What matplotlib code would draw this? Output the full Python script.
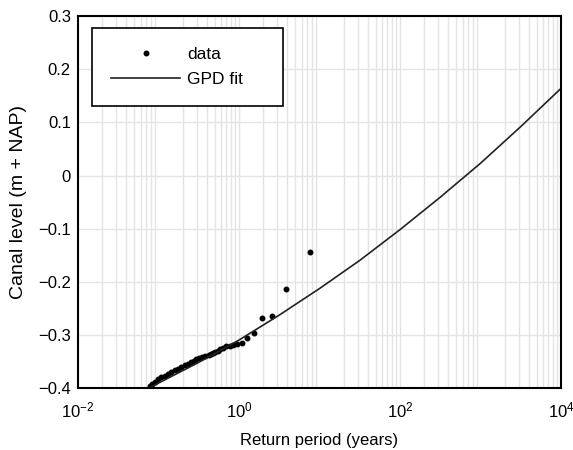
import matplotlib
matplotlib.use('Agg')
import matplotlib.pyplot as plt
import numpy as np

plt.rcParams['font.family'] = ['Liberation Sans', 'DejaVu Sans']
plt.rcParams['mathtext.default'] = 'regular'

# observed canal levels vs empirical return period (years)
data_T = [7.62, 3.84, 2.55, 1.91, 1.53, 1.27, 1.09, 0.955, 0.849, 0.764, 0.695,
          0.637, 0.588, 0.546, 0.509, 0.478, 0.449, 0.424, 0.382, 0.347, 0.318,
          0.294, 0.273, 0.255, 0.232, 0.212, 0.191, 0.174, 0.159, 0.144, 0.132,
          0.119, 0.109, 0.099, 0.091, 0.084, 0.078]
data_level = [-0.144, -0.213, -0.264, -0.268, -0.297, -0.306, -0.316, -0.318,
              -0.320, -0.321, -0.322, -0.324, -0.327, -0.330, -0.333, -0.335,
              -0.336, -0.338, -0.340, -0.341, -0.343, -0.346, -0.349, -0.351,
              -0.355, -0.357, -0.361, -0.364, -0.366, -0.370, -0.374, -0.377,
              -0.380, -0.384, -0.388, -0.392, -0.397]

# GPD fit return level curve
fit_T = [0.0759, 0.1, 0.316, 1.0, 3.16, 10.0, 31.6, 100.0, 316.0, 1000.0, 3162.0, 10000.0]
fit_level = [-0.400, -0.391, -0.352, -0.310, -0.263, -0.213, -0.160, -0.102,
             -0.041, 0.023, 0.092, 0.164]

fig = plt.figure(figsize=(5.73, 4.5), dpi=100)
ax = fig.add_axes([0.136, 0.138, 0.843, 0.826])

ax.plot(data_T, data_level, '.', color='black', markersize=6.5, label='data')
ax.plot(fit_T, fit_level, '-', color='#222222', linewidth=1.2, label='GPD fit')

ax.set_xscale('log')
ax.set_xlim(1e-2, 1e4)
ax.set_ylim(-0.4, 0.3)
ax.set_xticks([1e-2, 1e0, 1e2, 1e4])
ax.set_yticks(np.arange(-0.4, 0.31, 0.1))
ax.set_yticklabels(['\u22120.4', '\u22120.3', '\u22120.2', '\u22120.1', '0', '0.1', '0.2', '0.3'])

ax.grid(True, which='major', color='#e4e4e4', linewidth=1.0)
ax.grid(True, which='minor', axis='x', color='#e4e4e4', linewidth=1.0)
ax.set_axisbelow(True)
ax.tick_params(which='both', length=0, labelsize=12)
ax.tick_params(axis='y', pad=5)
ax.tick_params(axis='x', pad=9)

for s in ax.spines.values():
    s.set_linewidth(1.5)
    s.set_color('black')

ax.set_xlabel('Return period (years)', fontsize=12, labelpad=9)
ax.set_ylabel('Canal level (m + NAP)', fontsize=14, labelpad=8)

leg = ax.legend(loc='upper left', bbox_to_anchor=(0.029, 0.968, 0.395, 0.0),
                mode='expand', fontsize=12.5,
                fancybox=False, framealpha=1, edgecolor='black',
                borderpad=1.1, handlelength=4.0, labelspacing=0.55,
                handletextpad=0.4, borderaxespad=0)
leg.get_frame().set_linewidth(1.2)

fig.savefig('out.png', dpi=100)
